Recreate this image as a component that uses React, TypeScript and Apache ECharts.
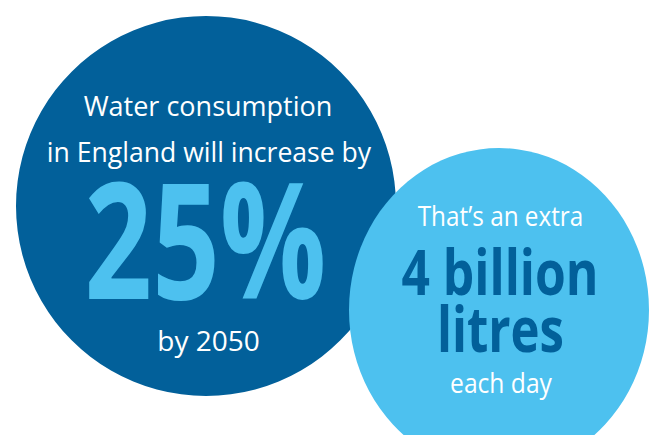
import React, { useEffect, useRef } from "react";
import * as echarts from "echarts";

// Content
const increaseIntro: string[] = ["Water consumption", "in England will increase by"];
const increaseValue: string[] = ["25%"];
const increaseYear: string[] = ["by 2050"];
const extraIntro: string[] = ["That’s an extra"];
const extraValue: string[] = ["4 billion", "litres"];
const extraTail: string[] = ["each day"];

// Bubbles (centre x, centre y in page pixels; width, height)
const bubbleNames: string[] = ["increase", "extra"];
const bubbleCX: number[] = [206, 499];
const bubbleCY: number[] = [206, 310];
const bubbleW: number[] = [380, 300];
const bubbleH: number[] = [380, 324];

const DARK = "#02609A";
const LIGHT = "#4DC1EF";
const FONT = "'Open Sans', sans-serif";

export default function App() {
  const ref = useRef<HTMLDivElement>(null);
  useEffect(() => {
    document.body.style.margin = "0";
    if (!ref.current) return;
    const chart = echarts.init(ref.current, null, { renderer: "svg" });
    const colors = [DARK, LIGHT];
    const txt = (
      text: string,
      x: number,
      y: number,
      size: number,
      color: string,
      weight: string,
      scaleX = 1
    ) => ({
      type: "text",
      x,
      y,
      scaleX,
      z: 10,
      style: {
        text,
        fill: color,
        font: `${weight} ${size}px ${FONT}`,
        align: "center",
        verticalAlign: "middle",
      },
    });
    chart.setOption({
      animation: false,
      grid: { left: 0, right: 0, top: 0, bottom: 0 },
      xAxis: { type: "value", min: 0, max: 650, show: false },
      yAxis: { type: "value", min: 0, max: 435, inverse: true, show: false },
      series: [
        {
          type: "scatter",
          symbol: "circle",
          silent: true,
          data: bubbleNames.map((n, i) => ({
            name: n,
            value: [bubbleCX[i], bubbleCY[i]],
            symbolSize: [bubbleW[i], bubbleH[i]],
            itemStyle: { color: colors[i], opacity: 1 },
          })),
        },
      ],
      graphic: [
        txt(increaseIntro[0], 208, 105.5, 27, "#ffffff", "normal"),
        txt(increaseIntro[1], 209, 151.5, 27, "#ffffff", "normal", 0.985),
        txt(increaseValue[0], 205.5, 236, 162, LIGHT, "bold", 0.73),
        txt(increaseYear[0], 208.5, 339.5, 28, "#ffffff", "normal"),
        txt(extraIntro[0], 500.5, 216.5, 27, "#ffffff", "normal", 0.9),
        txt(extraValue[0], 500, 270.5, 63, DARK, "bold", 0.79),
        txt(extraValue[1], 500.5, 328.5, 63, DARK, "bold", 0.78),
        txt(extraTail[0], 501, 382, 28, "#ffffff", "normal", 0.88),
      ],
    });
    return () => chart.dispose();
  }, []);
  return <div ref={ref} style={{ width: 650, height: 435 }} />;
}
